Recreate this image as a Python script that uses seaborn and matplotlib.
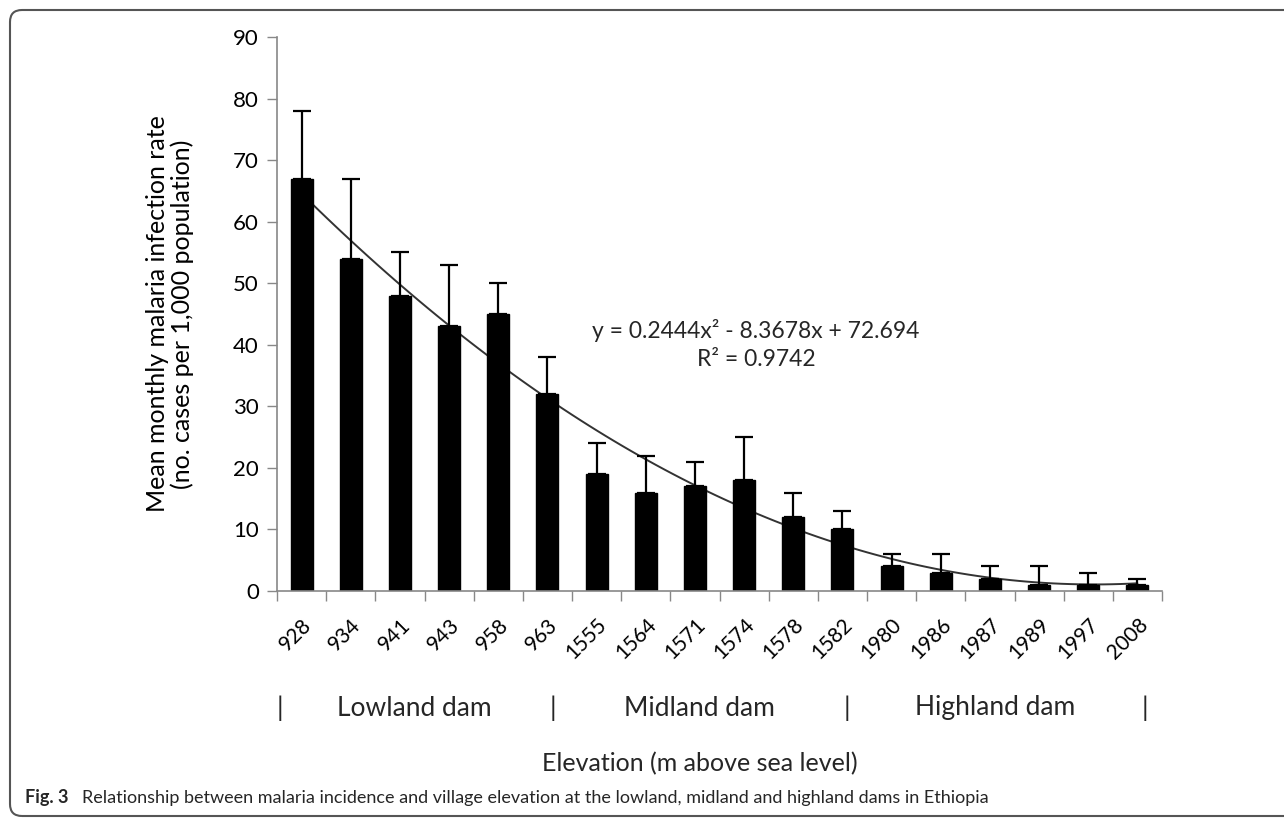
import numpy as np
import pandas as pd
import matplotlib
matplotlib.use("Agg")
import matplotlib.pyplot as plt
import matplotlib.transforms as mtransforms
from matplotlib.patches import FancyBboxPatch
import seaborn as sns

# ---- data ----
elevations = ["928", "934", "941", "943", "958", "963", "1555", "1564", "1571",
              "1574", "1578", "1582", "1980", "1986", "1987", "1989", "1997", "2008"]
incidence = [67, 54, 48, 43, 45, 32, 19, 16, 17, 18, 12, 10, 4, 3, 2, 1, 1, 1]
upper_err = [11, 13, 7, 10, 5, 6, 5, 6, 4, 7, 4, 3, 2, 3, 2, 3, 2, 1]
groups = ["Lowland dam", "Midland dam", "Highland dam"]
equation_text = "y = 0.2444x² - 8.3678x + 72.694"
r2_text = "R² = 0.9742"

sns.set_theme(style="white")
plt.rcParams["font.family"] = ["Lato", "DejaVu Sans"]

fig = plt.figure(figsize=(12.84, 8.18), dpi=100)
ax = fig.add_axes([277 / 1284, 1 - 591 / 818, (1162 - 277) / 1284, (591 - 37) / 818])

df = pd.DataFrame({"elev": elevations, "inc": incidence})
pos = np.arange(len(elevations))

# trend line (quadratic fit, drawn beneath the bars)
sns.regplot(x=pos, y=np.array(incidence, dtype=float), order=2, ci=None,
            scatter=False, truncate=True, ax=ax,
            line_kws=dict(color="#333333", lw=1.4, zorder=0.5))

sns.barplot(data=df, x="elev", y="inc", color="black", width=0.45,
            saturation=1, ax=ax, zorder=2)
for p in ax.patches:
    p.set_edgecolor("black")

ax.errorbar(pos, incidence, yerr=[np.zeros(len(pos)), upper_err], fmt="none",
            ecolor="black", elinewidth=1.6, capsize=6.5, capthick=1.6, zorder=3)

ax.set_xlim(-0.5, len(elevations) - 0.5)
ax.set_ylim(0, 90)
ax.set_yticks(np.arange(0, 91, 10))
ax.tick_params(axis="y", which="major", left=True, length=7, width=1,
               color="#888888", labelsize=16, pad=6, labelcolor="black")
ax.set_xticks(pos)
ax.set_xticklabels(elevations, rotation=45, ha="right", rotation_mode="anchor")
ax.tick_params(axis="x", which="major", bottom=False, length=0, labelsize=15, pad=17,
               labelcolor="black")
ax.set_xticks(np.arange(-0.5, len(elevations), 1.0), minor=True)
ax.tick_params(axis="x", which="minor", bottom=True, length=7, width=1,
               color="#888888", direction="out")

sns.despine(ax=ax)
for s in ("left", "bottom"):
    ax.spines[s].set_color("#888888")
    ax.spines[s].set_linewidth(1.2)

ax.set_xlabel("")
ax.set_ylabel("Mean monthly malaria infection rate\n(no. cases per 1,000 population)",
              fontsize=18, labelpad=28, linespacing=1.1, color="black")

fig.text(756 / 1284, 1 - 330 / 818, equation_text, fontsize=16.5,
         ha="center", va="center")
fig.text(756 / 1284, 1 - 360 / 818, r2_text, fontsize=16.5,
         ha="center", va="center")

# group labels
tr = mtransforms.blended_transform_factory(ax.transData, fig.transFigure)
gy = 1 - 708 / 818
for xs in [-0.44, 5.11, 11.1, 17.15]:
    fig.text(xs, gy, "|", transform=tr, fontsize=19, ha="center", va="center")
for xc, g in zip([2.3, 8.1, 14.1], groups):
    fig.text(xc, gy, g, transform=tr, fontsize=19, ha="center", va="center")

fig.text(8.1, 1 - 764 / 818, "Elevation (m above sea level)", transform=tr,
         fontsize=18, ha="center", va="center")

# caption
fig.text(25 / 1284, 1 - 798 / 818, "Fig. 3", fontsize=13, fontweight="bold",
         ha="left", va="center")
fig.text(82 / 1284, 1 - 798 / 818,
         "Relationship between malaria incidence and village elevation at the lowland, midland and highland dams in Ethiopia",
         fontsize=13, ha="left", va="center")

# frame
frame = FancyBboxPatch((10, 2), 1400, 806, boxstyle="round,pad=0,rounding_size=12",
                       transform=mtransforms.IdentityTransform(), fill=False,
                       edgecolor="#555555", lw=1.5)
fig.add_artist(frame)

fig.savefig("out.png", dpi=100)
